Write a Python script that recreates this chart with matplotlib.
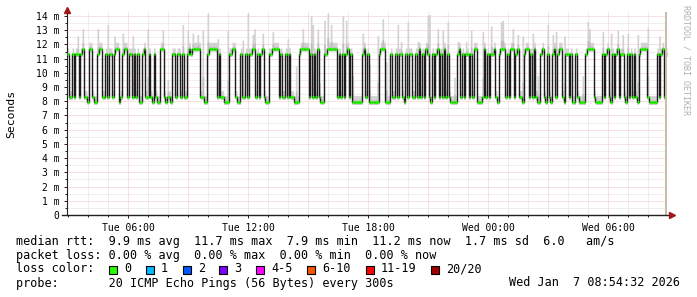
import datetime as dt
import numpy as np
import matplotlib
matplotlib.use('Agg')
import matplotlib.pyplot as plt
import matplotlib.dates as mdates
from matplotlib.patches import Rectangle

# median rtt levels in ms (one value per 300s step)
H, L, U, D = 11.3, 8.3, 11.7, 7.95

median_ms = [
    H, L, L, H, L, H, H, L, H, U, L, L, D, U, U, L, D, D, H, U,
    U, L, L, H, L, H, H, L, H, U, U, D, L, H, U, U, L, H, H, L,
    H, L, H, D, D, H, U, L, L, H, L, D, H, L, D, D, U, U, L, D,
    L, L, D, H, H, L, H, H, L, H, L, L, H, U, H, U, U, U, U, U,
    L, L, D, D, H, U, U, U, U, U, L, H, L, L, D, D, D, H, H, U,
    U, L, D, D, H, L, L, H, L, H, H, U, U, L, H, L, H, U, L, D,
    D, H, H, U, U, U, U, L, H, L, L, H, L, H, L, L, D, D, D, H,
    U, U, U, U, U, L, H, L, H, L, U, L, D, D, H, H, U, U, U, U,
    U, U, L, H, L, H, L, H, U, L, H, D, D, D, D, D, D, H, U, L,
    H, D, D, D, D, D, D, H, U, U, U, D, D, D, H, L, L, H, L, H,
    H, L, D, H, L, H, H, L, L, H, L, U, L, H, L, U, H, L, D, H,
    L, H, U, L, H, L, U, L, H, L, D, D, D, D, H, U, L, H, L, H,
    H, L, H, L, U, U, D, D, D, L, U, L, H, L, H, H, U, L, D, H,
    U, U, U, L, H, L, U, U, L, H, U, L, L, D, H, U, U, L, H, L,
    U, L, D, D, H, U, L, D, H, L, D, H, U, L, H, U, U, L, D, H,
    H, L, H, D, D, H, L, D, D, D, D, H, U, U, U, U, L, D, D, D,
    D, H, L, H, U, L, D, H, L, H, U, L, H, H, L, D, H, L, H, L,
    H, L, D, H, U, U, U, U, L, D, D, D, D, D, H, L, H, U, L, H,
]

# visible smoke spikes: step index and highest ping (ms)
spike_steps = [6, 9, 18, 24, 28, 33, 39, 42, 48, 57, 60, 69, 72, 75, 78, 81, 84, 90,
               96, 105, 108, 111, 112, 117, 123, 132, 137, 141, 146, 147, 150, 151,
               154, 156, 158, 165, 167, 171, 177, 181, 186, 189, 191, 198, 200, 204,
               210, 216, 217, 222, 225, 228, 232, 234, 239, 242, 249, 254, 260, 261,
               267, 270, 273, 279, 282, 288, 291, 293, 298, 309, 312, 313, 321, 326,
               330, 333, 336, 342, 348, 355]
spike_top = [12.6, 13.1, 13.1, 13.4, 12.6, 12.8, 12.6, 9.8, 13.1, 13.0, 9.5, 13.4, 13.0,
             12.8, 12.7, 13.0, 14.2, 12.4, 13.0, 12.3, 14.2, 12.7, 13.1, 12.8, 12.9,
             12.4, 10.5, 13.1, 14.0, 13.4, 13.1, 9.3, 13.7, 14.2, 13.4, 14.0, 13.7,
             9.8, 12.8, 10.6, 12.6, 13.8, 10.8, 13.4, 12.2, 13.6, 12.2, 14.0, 14.1,
             13.1, 13.0, 13.6, 9.7, 12.2, 12.2, 13.0, 12.9, 13.3, 13.6, 13.7, 13.1,
             12.7, 12.6, 12.8, 9.8, 13.4, 12.7, 12.9, 12.6, 9.8, 13.6, 13.1, 12.9,
             12.8, 13.0, 12.7, 12.8, 12.7, 13.2, 12.6]

summary_lines = [
    "median rtt:  9.9 ms avg  11.7 ms max  7.9 ms min  11.2 ms now  1.7 ms sd  6.0   am/s",
    "packet loss: 0.00 % avg  0.00 % max  0.00 % min  0.00 % now",
]
loss_labels = ["0", "1", "2", "3", "4-5", "6-10", "11-19", "20/20"]
loss_colors = ["#26ff00", "#00b8ff", "#0059ff", "#7e00ff", "#ff00ff", "#ff5500", "#ff0000", "#a10000"]
probe_text = "probe:       20 ICMP Echo Pings (56 Bytes) every 300s"
stamp_text = "Wed Jan  7 08:54:32 2026"

t0 = dt.datetime(2026, 1, 6, 2, 57)
edges = [t0 + dt.timedelta(seconds=300 * i) for i in range(len(median_ms) + 1)]
xe = mdates.date2num(edges)

med = np.array(median_ms)
hi = med + 0.45
for s, v in zip(spike_steps, spike_top):
    hi[s] = max(hi[s], v)
lo = med - 0.15
inner = med + 0.3 * (hi - med)

mono = 'DejaVu Sans Mono'
fig = plt.figure(figsize=(6.97, 2.97), dpi=100)
fig.patch.set_facecolor('white')
ax = fig.add_axes([67 / 697, 82 / 297, 600 / 697, 203 / 297])
ax.set_xlim(xe[0], xe[-1])
ax.set_ylim(0, 14.28)

# grid, rrdtool style
minor_c, major_c = '#dedede', '#f2c2c2'
dots = (0, (1, 1))
for y in np.arange(0.5, 14.01, 0.5):
    c = major_c if y % 1 == 0 else minor_c
    ax.axhline(y, color=c, lw=0.72, ls=dots, zorder=1)
for h in range(4, 33):
    x = mdates.date2num(dt.datetime(2026, 1, 6) + dt.timedelta(hours=h))
    c = major_c if h % 3 == 0 else minor_c
    ax.axvline(x, color=c, lw=0.72, ls=dots, zorder=1)

# smoke
hi_e = np.append(hi, hi[-1])
lo_e = np.append(lo, lo[-1])
in_e = np.append(inner, inner[-1])
ax.fill_between(xe, lo_e, hi_e, step='post', color='#d2d2d2', lw=0, zorder=2)
ax.fill_between(xe, lo_e, in_e, step='post', color='#bdbdbd', lw=0, zorder=2)

# median line + loss colour bands
ax.step(xe, np.append(med, med[-1]), where='post', color='#1c1c1c', lw=1.0, zorder=3)
ax.hlines(med, xe[:-1], xe[1:], color=loss_colors[0], lw=2.0, zorder=4, capstyle='butt')

ax.axvline(xe[-1] - 0.0015, color='#c6bea6', lw=1.4, zorder=5)

# axes
for side in ['top', 'right', 'bottom']:
    ax.spines[side].set_visible(False)
ax.spines['left'].set_color('#202020')
ax.spines['left'].set_linewidth(0.8)
ax.spines['left'].set_bounds(0, 14.45)
ax.plot([-0.008, 1.006], [0, 0], color='#202020', lw=1.0, transform=ax.transAxes, clip_on=False, zorder=6)
ax.plot([1.008], [0], marker='>', ms=4, color='#a01818', mec='#a01818', transform=ax.transAxes, clip_on=False, zorder=6)
ax.plot([0], [1.012], marker='^', ms=4, color='#a01818', mec='#a01818', transform=ax.transAxes, clip_on=False, zorder=6)

ax.set_yticks(range(15))
ax.set_yticklabels(["0"] + ["%d m" % v for v in range(1, 15)], fontfamily=mono, fontsize=7)
ax.set_yticks(np.arange(0.5, 14.3, 0.5), minor=True)
ax.xaxis.set_major_locator(mdates.HourLocator(byhour=[0, 6, 12, 18]))
ax.xaxis.set_major_formatter(mdates.DateFormatter('%a %H:%M'))
ax.xaxis.set_minor_locator(mdates.HourLocator(interval=1))
for lab in ax.get_xticklabels():
    lab.set_fontfamily(mono)
    lab.set_fontsize(7)
ax.tick_params(axis='both', which='both', color='#202020', width=0.7, direction='out')
ax.tick_params(axis='y', which='major', length=2, pad=3.5)
ax.tick_params(axis='y', which='minor', length=1.5)
ax.tick_params(axis='x', which='major', length=2, pad=4)
ax.tick_params(axis='x', which='minor', length=1.5)

fig.text(11 / 697, 1 - 114 / 297, "Seconds", rotation=90, ha='center', va='center', fontfamily=mono, fontsize=8.2)
fig.text(686 / 697, 1 - 60 / 297, "RRDTOOL / TOBI OETIKER", rotation=270, ha='center', va='center',
         fontfamily=mono, fontsize=6, color='#b0b0b0')

# legend block
ys = [241, 255, 269, 283]
for txt, y in zip(summary_lines, ys[:2]):
    fig.text(16 / 697, 1 - y / 297, txt, ha='left', va='center', fontfamily=mono, fontsize=8.5)
fig.text(16 / 697, 1 - ys[2] / 297, "loss color:", ha='left', va='center', fontfamily=mono, fontsize=8.5)
box_x = [109, 146, 183, 219, 256, 307, 366, 431]
for bx, lab, c in zip(box_x, loss_labels, loss_colors):
    fig.patches.append(Rectangle((bx / 697, 1 - 273.5 / 297), 8 / 697, 8 / 297, transform=fig.transFigure,
                                 facecolor=c, edgecolor='black', lw=0.8))
    fig.text((bx + 15) / 697, 1 - ys[2] / 297, lab, ha='left', va='center', fontfamily=mono, fontsize=8.5)
fig.text(16 / 697, 1 - ys[3] / 297, probe_text, ha='left', va='center', fontfamily=mono, fontsize=8.5)
fig.text(680 / 697, 1 - ys[3] / 297, stamp_text, ha='right', va='center', fontfamily=mono, fontsize=8.5)

fig.savefig('out.png', dpi=100, facecolor='white')
